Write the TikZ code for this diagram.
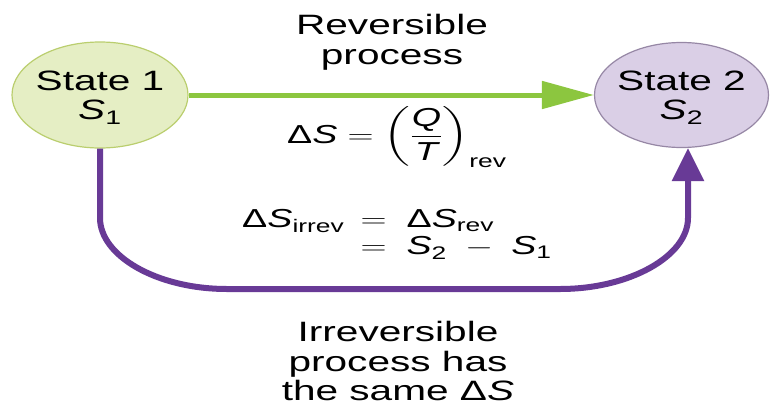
\documentclass[tikz,border=0pt]{standalone}
\usepackage{fontspec}
\usepackage{amsmath}
\setmainfont{Liberation Sans}
\usetikzlibrary{shapes.geometric,arrows.meta}
\definecolor{gfill}{RGB}{229,238,196}
\definecolor{gline}{RGB}{186,206,110}
\definecolor{pfill}{RGB}{218,207,230}
\definecolor{pline}{RGB}{150,135,165}
\definecolor{garrow}{RGB}{140,198,63}
\definecolor{parrow}{RGB}{104,58,150}
\begin{document}
\begin{tikzpicture}[x=1pt,y=1pt,
  txt/.style={xscale=1.45, font=\fontsize{28}{30}\selectfont, align=center, inner sep=0pt},
  eqn/.style={xscale=1.45, font=\fontsize{26}{27}\selectfont, inner sep=0pt},
  stateA/.style={ellipse, draw=gline, fill=gfill, line width=1.2pt, minimum width=176pt, minimum height=106pt, inner sep=0pt},
  stateB/.style={ellipse, draw=pline, fill=pfill, line width=1.2pt, minimum width=174pt, minimum height=105pt, inner sep=0pt},
  garr/.style={draw=garrow, line width=5pt, -{Triangle[length=52pt,width=27pt]}},
  parr/.style={draw=parrow, line width=6pt, -{Triangle[length=33pt,width=31pt]}}]
\useasboundingbox (0,0) rectangle (774,-407);

\node[stateA] (s1) at (100,-95) {};
\node[stateB] (s2) at (681.5,-95) {};
\node[txt] (s1t) at (100,-98) {State 1\\[-1pt]\(\textit{S}_{\text{1}}\)};
\node[txt] (s2t) at (681.5,-98) {State 2\\[-1pt]\(\textit{S}_{\text{2}}\)};

\node[txt] (rev) at (392,-42) {Reversible\\process};
\node[txt, font=\fontsize{28}{29.5}\selectfont] (irr) at (398,-361) {Irreversible\\process has\\the same Δ\textit{S}};

\node[eqn, anchor=base] (eq1) at (397,-143)
  {\(\text{Δ}\textit{S} = \left(\dfrac{\textit{Q}}{\textit{T}}\right)_{\text{rev}}\)};
\node[eqn] (eq2) at (397,-236)
  {\(\begin{array}{r@{\;\,}l}\text{Δ}\textit{S}_{\text{irrev}} & = \;\text{Δ}\textit{S}_{\text{rev}}\\
   & = \;\textit{S}_{\text{2}} \;-\; \textit{S}_{\text{1}}\end{array}\)};

\draw[garr] (s1.east) -- (s2.west);

\coordinate (pa) at (100,-218);
\coordinate (pd) at (227,-289);
\coordinate (pe) at (560,-289);
\coordinate (ph) at (688,-218);
\draw[parr] (s1.south) -- (pa) .. controls (100,-256) and (157,-289) .. (pd)
  -- (pe) .. controls (630,-289) and (688,-256) .. (ph) -- (ph |- s2.south);
\end{tikzpicture}
\end{document}
